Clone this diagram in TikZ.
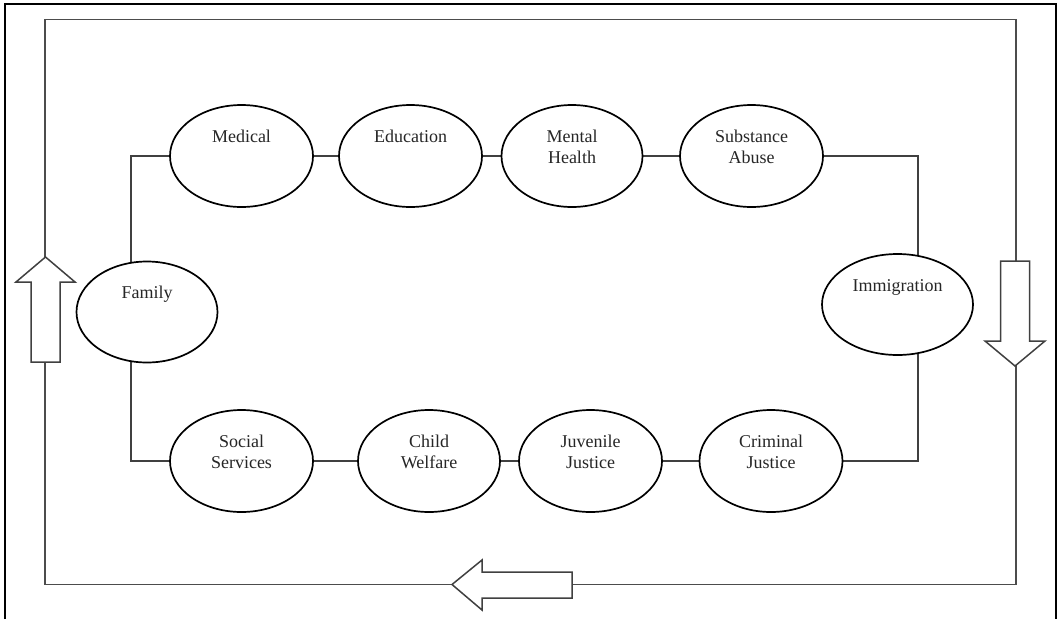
\documentclass[tikz,border=0pt]{standalone}
\usepackage{fontspec}
\setmainfont{Liberation Serif}
\usetikzlibrary{shapes.geometric,backgrounds}
\newcommand\ovaltext[1]{\parbox[c][56pt][t]{94pt}{\centering\strut #1\strut}}
\tikzset{
  oval/.style={ellipse, draw=black, line width=1.7pt, fill=white,
    minimum width=143pt, minimum height=102pt, inner sep=0pt,
    font=\fontsize{18}{21}\selectfont, text=black!85},
  link/.style={draw=black!75, line width=1.5pt},
  loopline/.style={draw=black!70, line width=1.6pt},
  flowarrow/.style={draw=black!75, line width=1.5pt, fill=white, line join=miter},
  frame/.style={draw=black, line width=1.4pt}
}
\begin{document}
\begin{tikzpicture}[x=1pt,y=-1pt]
\useasboundingbox (0,0) rectangle (1059,619);
% image frame (open at the bottom)
\draw[frame] (5,619) -- (5,4) -- (1056,4) -- (1056,619);
% outer loop
\coordinate (oTL) at (45,19.5);
\coordinate (oBR) at (1016,584.5);
\draw[loopline] (oTL) rectangle (oBR);
% direction arrows
\draw[flowarrow] (31,362) -- (31,282) -- (16,282) -- (45.5,257) -- (75,282) -- (60,282) -- (60,362) -- cycle;
\draw[flowarrow] (1000.5,261) -- (1029.5,261) -- (1029.5,341) -- (1045,341) -- (1015,366) -- (985,341) -- (1000.5,341) -- cycle;
\draw[flowarrow] (572,572) -- (482,572) -- (482,560) -- (452,584.5) -- (482,610) -- (482,598) -- (572,598) -- cycle;
% nodes
\node[oval] (medical)   at (241.5,156) {\ovaltext{Medical}};
\node[oval] (education) at (410.5,156) {\ovaltext{Education}};
\node[oval, minimum width=141pt] (mental) at (572,156) {\ovaltext{Mental\\Health}};
\node[oval] (substance) at (751.5,156) {\ovaltext{Substance\\Abuse}};
\node[oval, minimum width=151pt, minimum height=101pt] (immigration) at (897.5,304.5) {\ovaltext{Immigration}};
\node[oval] (criminal)  at (771,461) {\ovaltext{Criminal\\Justice}};
\node[oval] (juvenile)  at (590.5,461) {\ovaltext{Juvenile\\Justice}};
\node[oval, minimum width=142pt] (child) at (429,461) {\ovaltext{Child\\Welfare}};
\node[oval] (social)    at (241.5,461) {\ovaltext{Social\\Services}};
\node[oval, minimum width=141pt, minimum height=101pt] (family) at (147,312) {\ovaltext{Family}};
% inner loop corners
\coordinate (iL) at (131,312);
\coordinate (iR) at (918,304.5);
\begin{scope}[on background layer]
\draw[link] (medical) -- (education);
\draw[link] (education) -- (mental);
\draw[link] (mental) -- (substance);
\draw[link] (substance.east) -| (iR);
\draw[link] (iR) |- (criminal.east);
\draw[link] (criminal) -- (juvenile);
\draw[link] (juvenile) -- (child);
\draw[link] (child) -- (social);
\draw[link] (social.west) -| (iL);
\draw[link] (iL) |- (medical.west);
\end{scope}
\end{tikzpicture}
\end{document}
